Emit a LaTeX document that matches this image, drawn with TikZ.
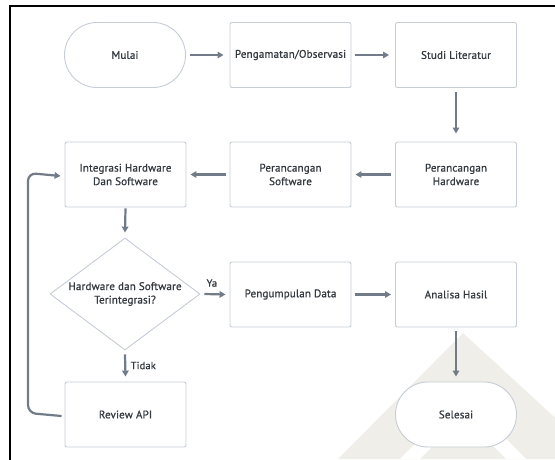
\documentclass[tikz,border=0pt]{standalone}
\usepackage{fontspec}
\setmainfont{PT Sans}[FakeBold=0.9,LetterSpace=1.5]
\usetikzlibrary{shapes.geometric,shapes.misc,arrows.meta}
\definecolor{lineC}{HTML}{717C88}
\definecolor{boxC}{HTML}{C6CDD5}
\definecolor{txtC}{HTML}{343A40}
\definecolor{wmC}{HTML}{EFEEE9}
\begin{document}
\begin{tikzpicture}[x=1pt,y=-1pt,
  every node/.style={font=\fontsize{11}{13.5}\selectfont, text=txtC},
  proc/.style={draw=boxC, fill=white, line width=0.9pt, rounded corners=2pt, minimum width=121pt, minimum height=65pt, align=center, inner sep=0pt},
  term/.style={draw=boxC, fill=white, line width=0.9pt, rounded rectangle, minimum width=121pt, minimum height=65pt, align=center, inner sep=0pt},
  decis/.style={draw=boxC, fill=white, line width=0.9pt, diamond, minimum width=150pt, minimum height=112pt, align=center, inner sep=0pt, aspect=1.34},
  flow/.style={draw=lineC, line width=2.2pt, -{Triangle[length=6pt,width=6.5pt]}},
  lbl/.style={font=\fontsize{10.5}{12}\selectfont}]
\useasboundingbox (0,0) rectangle (555,459);
% watermark
\fill[wmC] (463,333) -- (338,459) -- (600,459) -- cycle;
\fill[white] (463,395) -- (400,459) -- (420,459) -- (463,415) -- (506,459) -- (526,459) -- cycle;
% frame
\draw[black, line width=2pt] (10,470) -- (10,6) -- (570,6);
% nodes
\node[term] (mulai) at (125,55) {Mulai};
\node[proc] (peng) at (290.5,55) {Pengamatan/Observasi};
\node[proc] (studi) at (456,55) {Studi Literatur};
\node[proc] (phw) at (456,174.5) {Perancangan\\Hardware};
\node[proc] (psw) at (290.5,174.5) {Perancangan\\Software};
\node[proc] (integ) at (125.5,174.5) {Integrasi Hardware\\Dan Software};
\node[decis] (dec) at (125,294) {Hardware dan Software\\Terintegrasi?};
\node[proc] (kumpul) at (290.5,294.5) {Pengumpulan Data};
\node[proc] (analisa) at (456,294.5) {Analisa Hasil};
\node[proc] (review) at (125.5,414.5) {Review API};
\node[term] (selesai) at (456,414.5) {Selesai};
% connectors
\draw[flow] ([xshift=4pt]mulai.east) -- ([xshift=-6pt]peng.west);
\draw[flow] ([xshift=4pt]peng.east) -- ([xshift=-6pt]studi.west);
\draw[flow] ([yshift=-4pt]studi.south) -- ([yshift=8pt]phw.north);
\draw[flow] ([xshift=-4pt]phw.west) -- ([xshift=4pt]psw.east);
\draw[flow] ([xshift=-4pt]psw.west) -- ([xshift=4pt]integ.east);
\draw[flow] ([yshift=-1pt]integ.south) -- ([yshift=5pt]dec.north);
\draw[flow] ([xshift=4pt]dec.east) -- node[lbl, above, pos=0.35, yshift=3pt] {Ya} ([xshift=-4pt]kumpul.west);
\draw[flow] ([xshift=4pt]kumpul.east) -- ([xshift=-4pt]analisa.west);
\draw[flow] ([yshift=-4pt]analisa.south) -- ([yshift=5pt]selesai.north);
\draw[flow] ([yshift=-4pt]dec.south) -- node[lbl, right, xshift=1pt] {Tidak} ([yshift=5pt]review.north);
\coordinate (lb) at (28,413);
\coordinate (lt) at (28,173);
\draw[flow, rounded corners=8pt] ([xshift=-3pt,yshift=-1.5pt]review.west) -- (lb) -- (lt) -- ([xshift=-4pt,yshift=-1.5pt]integ.west);
\end{tikzpicture}
\end{document}
